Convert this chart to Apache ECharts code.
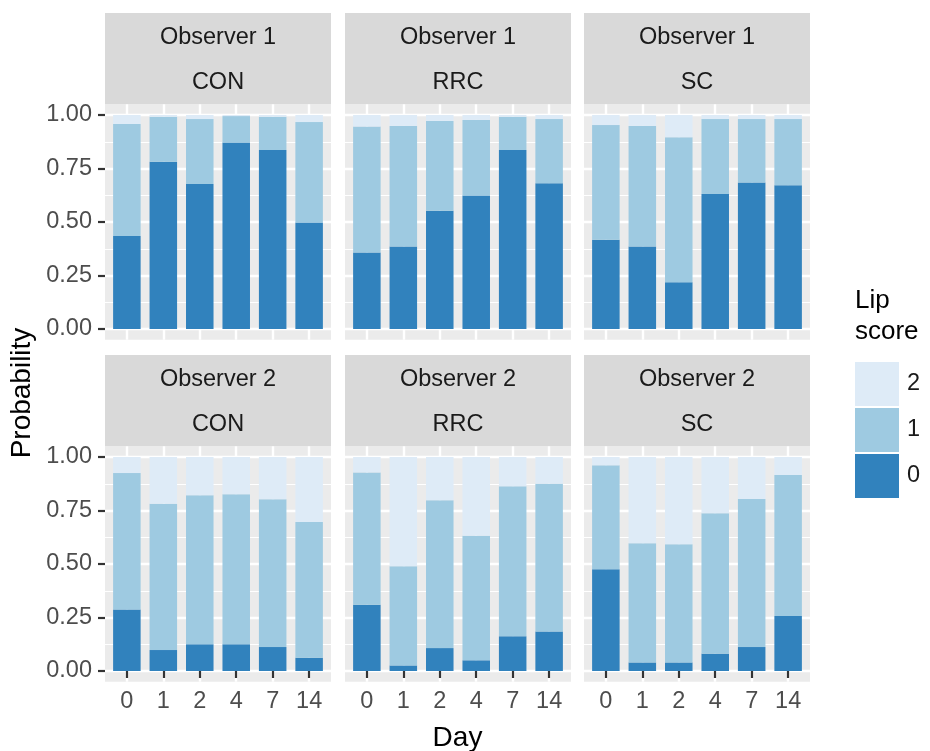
<!DOCTYPE html>
<html>
<head>
<meta charset="utf-8">
<title>Lip score probability by day</title>
<script src="https://cdn.jsdelivr.net/npm/echarts@6/dist/echarts.min.js"></script>
<style>
  html, body { margin: 0; padding: 0; background: #ffffff; }
  #chart { width: 930px; height: 751px; }
</style>
</head>
<body>
<div id="chart"></div>
<script>
// Categories
const days = ['0', '1', '2', '4', '7', '14'];
const observers = ['Observer 1', 'Observer 2'];
const treatments = ['CON', 'RRC', 'SC'];
const scores = ['0', '1', '2'];

// Probability of each lip score per day; rows are scores 0, 1, 2
const obs1CON = [
  [0.435, 0.781, 0.677, 0.871, 0.837, 0.498],
  [0.523, 0.211, 0.304, 0.124, 0.155, 0.469],
  [0.042, 0.008, 0.019, 0.005, 0.008, 0.033]
];
const obs1RRC = [
  [0.358, 0.386, 0.552, 0.624, 0.837, 0.681],
  [0.588, 0.563, 0.420, 0.353, 0.155, 0.300],
  [0.054, 0.051, 0.028, 0.023, 0.008, 0.019]
];
const obs1SC = [
  [0.417, 0.386, 0.219, 0.631, 0.684, 0.672],
  [0.536, 0.563, 0.677, 0.350, 0.297, 0.309],
  [0.047, 0.051, 0.104, 0.019, 0.019, 0.019]
];
const obs2CON = [
  [0.287, 0.098, 0.125, 0.125, 0.112, 0.062],
  [0.638, 0.684, 0.696, 0.701, 0.690, 0.634],
  [0.075, 0.218, 0.179, 0.174, 0.198, 0.304]
];
const obs2RRC = [
  [0.310, 0.026, 0.107, 0.050, 0.162, 0.184],
  [0.618, 0.463, 0.691, 0.582, 0.701, 0.691],
  [0.072, 0.511, 0.202, 0.368, 0.137, 0.125]
];
const obs2SC = [
  [0.475, 0.040, 0.040, 0.081, 0.112, 0.257],
  [0.486, 0.557, 0.552, 0.656, 0.692, 0.659],
  [0.039, 0.403, 0.408, 0.263, 0.196, 0.084]
];

const panelData = [
  [obs1CON, obs1RRC, obs1SC],
  [obs2CON, obs2RRC, obs2SC]
];

// Styling
const scoreColors = ['#3182bd', '#9ecae1', '#deebf7'];
const FONT = '"Liberation Sans", Arial, Helvetica, sans-serif';
const SMALL = 23.5;
const panelLeft = [105, 345, 584];
const panelW = 226;
const plotTop = [104.3, 446.3];
const plotH = 235.4;
const expandY = 10.7;          // 5% padding above 1 and below 0
const unit = panelW / 6.2;     // width of one day slot
const stripTop = [13, 355];
const stripH = plotTop[0] - stripTop[0];

const grids = [], xAxes = [], yAxes = [], series = [], graphics = [];

for (let r = 0; r < 2; r++) {
  for (let c = 0; c < 3; c++) {
    const left = panelLeft[c], top = plotTop[r];
    const base = grids.length;

    // panel background
    grids.push({ left: left, top: top, width: panelW, height: plotH,
      show: true, backgroundColor: '#ebebeb', borderWidth: 0, z: -1 });
    xAxes.push({ gridIndex: base, type: 'value', show: false });
    yAxes.push({ gridIndex: base, type: 'value', show: false });

    // horizontal grid lines and y axis
    grids.push({ left: left, top: top + expandY, width: panelW, height: plotH - 2 * expandY });
    xAxes.push({ gridIndex: base + 1, type: 'category', data: days, show: false });
    yAxes.push({
      gridIndex: base + 1, type: 'value', min: 0, max: 1, interval: 0.25,
      axisLine: { show: false },
      axisTick: { show: c === 0, length: 7, lineStyle: { color: '#333333', width: 2.2 } },
      axisLabel: { show: c === 0, margin: 13, fontSize: SMALL, color: '#4d4d4d', fontFamily: FONT,
        formatter: v => v.toFixed(2) },
      splitLine: { show: true, lineStyle: { color: '#ffffff', width: 2.4 } },
      minorTick: { show: false, splitNumber: 2 },
      minorSplitLine: { show: true, lineStyle: { color: '#ffffff', width: 1.2 } }
    });

    // bars, vertical grid lines and day axis
    grids.push({ left: left + 0.6 * unit, top: top, width: 5 * unit, height: plotH });
    xAxes.push({
      gridIndex: base + 2, type: 'category', data: days, boundaryGap: false,
      axisLine: { show: false },
      axisTick: { show: r === 1, interval: 0, length: 7, lineStyle: { color: '#333333', width: 2.2 } },
      axisLabel: { show: r === 1, interval: 0, margin: 8, fontSize: SMALL, color: '#4d4d4d', fontFamily: FONT },
      splitLine: { show: true, interval: 0, lineStyle: { color: '#ffffff', width: 2.4 } }
    });
    yAxes.push({ gridIndex: base + 2, type: 'value', min: -0.05, max: 1.05, show: false });

    const rows = panelData[r][c];
    scores.forEach((s, k) => {
      series.push({
        type: 'bar', name: s, stack: 'panel' + (r * 3 + c),
        xAxisIndex: base + 2, yAxisIndex: base + 2,
        barWidth: 0.755 * unit,
        data: rows[k],
        itemStyle: { color: scoreColors[k] },
        emphasis: { disabled: true }
      });
    });

    // facet strips
    graphics.push({ type: 'rect', silent: true,
      shape: { x: left, y: stripTop[r], width: panelW, height: stripH },
      style: { fill: '#d9d9d9' } });
    graphics.push({ type: 'text', silent: true, x: left + panelW / 2, y: stripTop[r] + 25,
      style: { text: observers[r], fontSize: SMALL, fontFamily: FONT, fill: '#1a1a1a',
        align: 'center', verticalAlign: 'middle' } });
    graphics.push({ type: 'text', silent: true, x: left + panelW / 2, y: stripTop[r] + 70,
      style: { text: treatments[c], fontSize: SMALL, fontFamily: FONT, fill: '#1a1a1a',
        align: 'center', verticalAlign: 'middle' } });
  }
}

// axis titles and legend title
graphics.push({ type: 'text', silent: true, x: 457.5, y: 738,
  style: { text: 'Day', fontSize: 28, fontFamily: FONT, fill: '#000000',
    align: 'center', verticalAlign: 'middle' } });
graphics.push({ type: 'text', silent: true, x: 22, y: 393, rotation: Math.PI / 2,
  style: { text: 'Probability', fontSize: 28, fontFamily: FONT, fill: '#000000',
    align: 'center', verticalAlign: 'middle' } });
graphics.push({ type: 'text', silent: true, x: 855, y: 301,
  style: { text: 'Lip', fontSize: 26, fontFamily: FONT, fill: '#000000',
    align: 'left', verticalAlign: 'middle' } });
graphics.push({ type: 'text', silent: true, x: 855, y: 332,
  style: { text: 'score', fontSize: 26, fontFamily: FONT, fill: '#000000',
    align: 'left', verticalAlign: 'middle' } });

const chart = echarts.init(document.getElementById('chart'), null, { renderer: 'canvas' });
chart.setOption({
  animation: false,
  backgroundColor: '#ffffff',
  textStyle: { fontFamily: FONT },
  grid: grids,
  xAxis: xAxes,
  yAxis: yAxes,
  series: series,
  legend: {
    data: ['2', '1', '0'],
    orient: 'vertical', left: 855, top: 362, padding: 0,
    itemWidth: 44, itemHeight: 44, itemGap: 2,
    icon: 'rect', selectedMode: false,
    textStyle: { fontSize: SMALL, color: '#1a1a1a', fontFamily: FONT, padding: [0, 0, 0, 3] }
  },
  graphic: graphics
});
</script>
</body>
</html>
